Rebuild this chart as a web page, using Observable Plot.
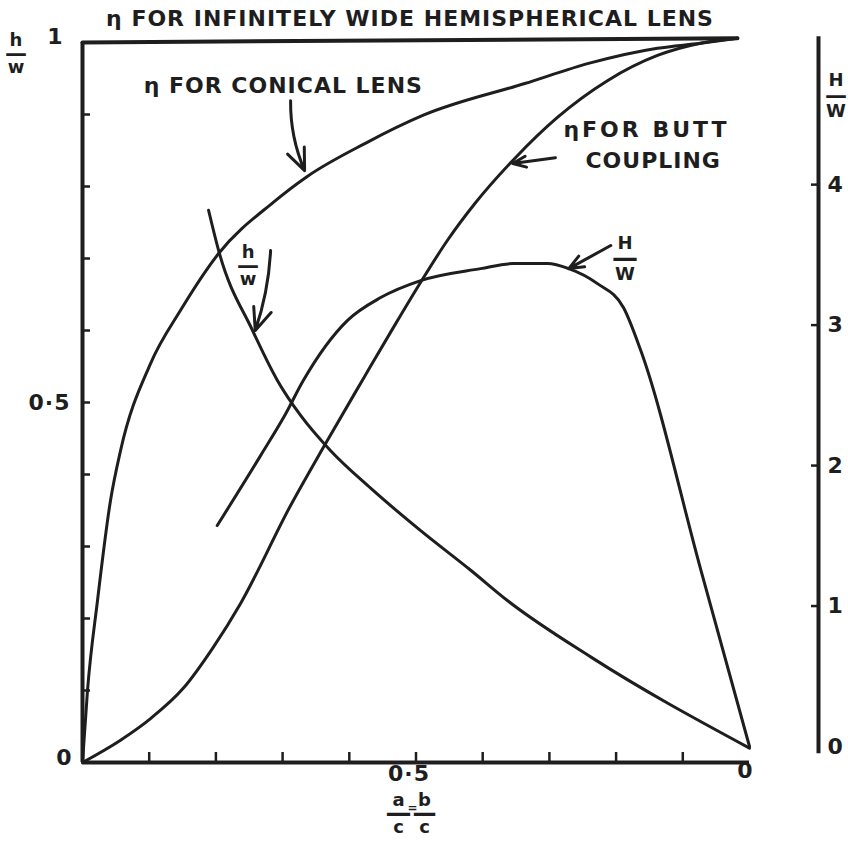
<!DOCTYPE html>
<html>
<head>
<meta charset="utf-8">
<script src="https://cdn.jsdelivr.net/npm/d3@7"></script>
<script src="https://cdn.jsdelivr.net/npm/@observablehq/plot@0.6"></script>
<style>
  body { margin: 0; background: #fff; }
  #chart svg text { font-weight: bold; letter-spacing: 1px; }
</style>
</head>
<body>
<div id="chart"></div>
<script>
// Efficiency curves (h/w units) against a/c = b/c, running from 1 down to 0
const conicalLens = [
  [1.0, 0.0], [0.9925, 0.100], [0.9775, 0.225], [0.958, 0.364], [0.943, 0.433],
  [0.898, 0.554], [0.853, 0.628], [0.795, 0.708], [0.714, 0.778], [0.663, 0.814],
  [0.576, 0.860], [0.489, 0.899], [0.337, 0.943], [0.237, 0.972], [0.138, 0.992],
  [0.0735, 0.999], [0.018, 1.006]
];
const buttCoupling = [
  [1.0, 0.0], [0.943, 0.031], [0.898, 0.061], [0.849, 0.103], [0.804, 0.160],
  [0.763, 0.221], [0.688, 0.357], [0.639, 0.4375], [0.579, 0.533], [0.534, 0.604],
  [0.493, 0.667], [0.453, 0.725], [0.412, 0.776], [0.352, 0.839], [0.288, 0.896],
  [0.213, 0.947], [0.138, 0.982], [0.0735, 0.999], [0.018, 1.006]
];
const hemispherical = [[1.0, 1.0], [0.018, 1.006]];
const hOverW = [
  [0.811, 0.767], [0.795, 0.708], [0.745, 0.600], [0.708, 0.531], [0.673, 0.482],
  [0.628, 0.433], [0.568, 0.381], [0.493, 0.322], [0.418, 0.267], [0.363, 0.225],
  [0.237, 0.146], [0.0, 0.02]
];
// H/W in its own units (right-hand scale)
const bigHOverW = [
  [0.798, 1.573], [0.733, 2.071], [0.696, 2.363], [0.669, 2.605], [0.603, 3.032],
  [0.553, 3.196], [0.493, 3.317], [0.403, 3.402], [0.354, 3.438], [0.303, 3.438],
  [0.271, 3.402], [0.228, 3.295], [0.189, 3.125], [0.163, 2.819], [0.0735, 1.267],
  [0.0, 0.0]
];

// Tick values and labels
const xTicks = [0.1, 0.2, 0.3, 0.4, 0.5, 0.6, 0.7, 0.8, 0.9];
const xLabels = [{v: 0.5, t: "0·5", dx: -7, dy: 3}, {v: 0, t: "0", dx: -4, dy: 0}];
const yTicks = [0.1, 0.2, 0.3, 0.4, 0.5, 0.6, 0.7, 0.8, 0.9];
const yLabels = [{v: 1, t: "1", dx: -19, dy: -6}, {v: 0.5, t: "0·5", dx: -12, dy: 0}, {v: 0, t: "0", dx: -10, dy: -5}];
const rightTicks = [1, 2, 3, 4];
const rightLabels = [0, 1, 2, 3, 4];

// Right-hand H/W scale expressed in h/w units
const RIGHT_ZERO = 0.0222, RIGHT_UNIT = 0.1951;
const toLeft = v => RIGHT_ZERO + RIGHT_UNIT * v;

const ink = "#1e1e1e";
const font = "DejaVu Sans";
const RIGHT_DX = 69;
const txt = {fill: ink, fontFamily: font, fontSize: 22};

// A stacked fraction: numerator, bar, denominator
function fraction(num, den, at, {size = 18, gap = 13, bar = 22} = {}) {
  const dy = at.dy || 0;
  const base = {fill: ink, fontFamily: font, textAnchor: "middle", lineAnchor: "middle", ...at};
  return [
    Plot.text([num], {...base, fontSize: size, dy: dy - gap}),
    Plot.text(["—"], {...base, fontSize: bar, dy}),
    Plot.text([den], {...base, fontSize: size, dy: dy + gap + 1})
  ];
}

const curve = (data, extra = {}) =>
  Plot.line(data, {x: d => d[0], y: d => d[1], curve: "monotone-x", stroke: ink, strokeWidth: 3, ...extra});

const arrowStyle = {x1: "x1", y1: "y1", x2: "x2", y2: "y2", stroke: ink, strokeWidth: 3, headLength: 12, headAngle: 45};

const chart = Plot.plot({
  width: 848,
  height: 844,
  marginLeft: 82,
  marginRight: 99,
  marginTop: 42,
  marginBottom: 82,
  x: {domain: [1, 0], axis: null},
  y: {domain: [0, 1], axis: null},
  style: {fontFamily: font, background: "#fff", color: ink},
  marks: [
    // frame: left axis and bottom axis
    Plot.ruleX([1], {stroke: ink, strokeWidth: 4}),
    Plot.ruleY([0], {x1: 1, x2: 0, stroke: ink, strokeWidth: 4}),
    Plot.axisX(xTicks, {tickSize: -10, tickFormat: () => "", stroke: ink, strokeWidth: 2.5, label: null}),
    Plot.axisY(yTicks, {tickSize: -8, tickFormat: () => "", stroke: ink, strokeWidth: 2.5, label: null}),
    ...xLabels.map(l => Plot.text([l], {x: "v", frameAnchor: "bottom", text: "t", dx: l.dx, dy: l.dy,
      textAnchor: "middle", lineAnchor: "top", ...txt})),
    ...yLabels.map(l => Plot.text([l], {y: "v", frameAnchor: "left", text: "t", dx: l.dx, dy: l.dy,
      textAnchor: "end", lineAnchor: "middle", ...txt})),

    // right-hand H/W axis
    Plot.ruleX([0], {y1: 0.012, y2: 1.008, dx: RIGHT_DX, stroke: ink, strokeWidth: 4}),
    Plot.axisY(rightTicks.map(toLeft), {anchor: "right", dx: RIGHT_DX, tickSize: -8, tickFormat: () => "",
      stroke: ink, strokeWidth: 2.5, label: null}),
    Plot.text(rightLabels, {y: d => toLeft(d), frameAnchor: "right", text: d => String(d), dx: RIGHT_DX + 9,
      textAnchor: "start", lineAnchor: "middle", ...txt}),

    // curves
    Plot.line(hemispherical, {x: d => d[0], y: d => d[1], stroke: ink, strokeWidth: 4}),
    curve(conicalLens),
    curve(buttCoupling),
    curve(hOverW),
    curve(bigHOverW, {y: d => toLeft(d[1])}),

    // annotations
    Plot.text(["η FOR INFINITELY WIDE HEMISPHERICAL LENS"], {frameAnchor: "top", dx: -6, dy: -24,
      textAnchor: "middle", lineAnchor: "middle", ...txt}),
    Plot.text(["η FOR CONICAL LENS"], {x: 0.699, y: 0.940, ...txt}),
    Plot.text(["ηFOR BUTT"], {x: 0.279, y: 0.878, textAnchor: "start", ...txt}),
    Plot.text(["COUPLING"], {x: 0.246, y: 0.836, textAnchor: "start", ...txt}),
    ...fraction("h", "w", {x: 0.751, y: 0.690}),
    ...fraction("H", "W", {x: 0.186, y: 0.700}, {gap: 15, bar: 26}),
    ...fraction("h", "w", {frameAnchor: "top-left", dx: -66, dy: 11}),
    ...fraction("H", "W", {frameAnchor: "top-right", dx: RIGHT_DX + 18, dy: 53}, {gap: 15, bar: 22}),
    ...fraction("a", "c", {frameAnchor: "bottom", dx: -17, dy: 51}, {gap: 13, bar: 26}),
    Plot.text(["="], {frameAnchor: "bottom", dx: -3, dy: 46, textAnchor: "middle", lineAnchor: "middle",
      fill: ink, fontFamily: font, fontSize: 12}),
    ...fraction("b", "c", {frameAnchor: "bottom", dx: 9, dy: 51}, {gap: 13, bar: 24}),

    // arrows pointing at the curves
    Plot.arrow([{x1: 0.688, y1: 0.919, x2: 0.667, y2: 0.822}], {...arrowStyle, bend: -12}),
    Plot.arrow([{x1: 0.291, y1: 0.840, x2: 0.355, y2: 0.832}], arrowStyle),
    Plot.arrow([{x1: 0.718, y1: 0.711, x2: 0.741, y2: 0.600}], {...arrowStyle, bend: 8}),
    Plot.arrow([{x1: 0.208, y1: 0.718, x2: 0.271, y2: 0.686}], arrowStyle)
  ]
});

// the butt-coupling caption is lettered more widely
d3.select(chart).selectAll("text")
  .filter(function () { return this.textContent === "ηFOR BUTT"; })
  .style("letter-spacing", "3px");

document.getElementById("chart").appendChild(chart);
</script>
</body>
</html>
